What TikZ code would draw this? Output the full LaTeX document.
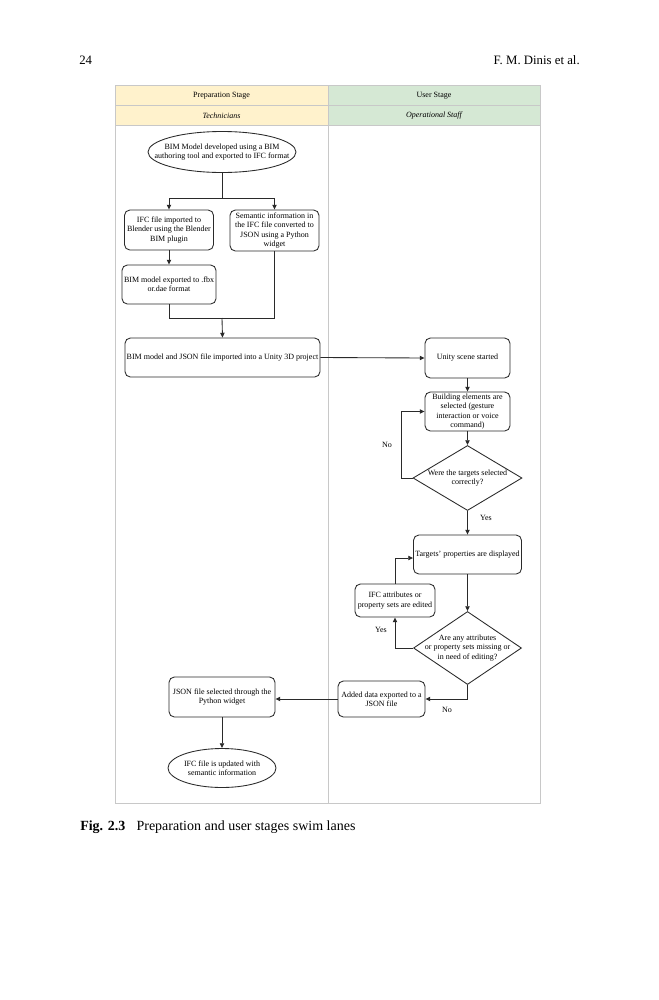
\documentclass[tikz,border=0pt]{standalone}
\usepackage{fontspec}
\setmainfont{Liberation Serif}
\usetikzlibrary{shapes.geometric,arrows.meta,calc}
\definecolor{laneyellow}{HTML}{FFF2CC}
\definecolor{lanegreen}{HTML}{D5E8D4}
\definecolor{laneborder}{HTML}{C8C8C8}
\definecolor{lineclr}{HTML}{2A2A2A}
\newcommand\dfont{\fontsize{6}{6.9}\selectfont}
\newcommand\pfont{\fontsize{9.6}{11}\selectfont}
\newcommand\cfont{\fontsize{10.5}{12}\selectfont}
\begin{document}
\begin{tikzpicture}[x=0.75pt,y=-0.75pt,
  sz/.style 2 args={minimum width=#1*0.75pt, minimum height=#2*0.75pt},
  stepbox/.style={draw=lineclr, line width=0.65pt, rounded corners=4pt, fill=white, align=center, font=\dfont, inner sep=1pt},
  oval/.style={draw=lineclr, line width=0.65pt, ellipse, fill=white, inner sep=0pt},
  decision/.style={draw=lineclr, line width=0.65pt, diamond, fill=white, inner sep=0pt},
  dtext/.style={align=center, font=\dfont, inner sep=0pt},
  lanehead/.style={draw=laneborder, line width=0.5pt},
  lanelabel/.style={font=\dfont, inner sep=0pt},
  conn/.style={draw=lineclr, line width=0.65pt},
  arr/.style={conn, -{Triangle[length=3.6pt,width=3.2pt]}},
  lbl/.style={font=\dfont, inner sep=0pt}]
\useasboundingbox (0,0) rectangle (659,1000);
\fill[white] (0,0) rectangle (659,1000);

% page running head
\node[font=\pfont, anchor=west, inner sep=0pt] (pagenum) at (79,60) {24};
\node[font=\pfont, anchor=east, inner sep=0pt] (authors) at (580,60) {F. M. Dinis et al.};

% swim lanes
\draw[lanehead, fill=laneyellow] (115,85) rectangle (328,105);
\draw[lanehead, fill=laneyellow] (115,105) rectangle (328,125);
\draw[lanehead, fill=lanegreen] (328,85) rectangle (540,105);
\draw[lanehead, fill=lanegreen] (328,105) rectangle (540,125);
\draw[lanehead, fill=white] (115,125) rectangle (328,803);
\draw[lanehead, fill=white] (328,125) rectangle (540,803);
\node[lanelabel] (h1) at (221.5,95.5) {Preparation Stage};
\node[lanelabel] (h2) at (221.5,115.5) {\itshape Technicians};
\node[lanelabel] (h3) at (434,95.5) {User Stage};
\node[lanelabel] (h4) at (434,115.5) {\itshape Operational Staff};

% preparation lane
\node[oval, sz={148}{41}] (e1) at (222,152) {};
\node[dtext] at (e1) {BIM Model developed using a BIM\\authoring tool and exported to IFC format};
\node[stepbox, sz={89}{40}] (b2) at (169,230) {IFC file imported to\\Blender using the Blender\\BIM plugin};
\node[stepbox, sz={89}{41}] (b3) at (274.5,230.5) {Semantic information in\\the IFC file converted to\\JSON using a Python\\widget};
\node[stepbox, sz={94}{39}] (b4) at (169,284.5) {BIM model exported to .fbx\\or.dae format};
\node[stepbox, sz={195}{39}] (b5) at (222.5,357.5) {BIM model and JSON file imported into a Unity 3D project};
\node[stepbox, sz={106}{40}] (b11) at (222,697) {JSON file selected through the\\Python widget};
\node[oval, sz={108}{39}] (e2) at (222,768) {};
\node[dtext] at (e2) {IFC file is updated with\\semantic information};

% user lane
\node[stepbox, sz={85}{40}] (b6) at (467.5,358) {Unity scene started};
\node[stepbox, sz={85}{39}] (b7) at (467.5,411.5) {Building elements are\\selected (gesture\\interaction or voice\\command)};
\node[decision, sz={109}{65}] (d1) at (467.5,478) {};
\node[dtext] at (d1) {Were the targets selected\\correctly?};
\node[stepbox, sz={108}{39}] (b8) at (467.5,554.5) {Targets' properties are displayed};
\node[stepbox, sz={80}{33}] (b9) at (395,600.5) {IFC attributes or\\property sets are edited};
\node[decision, sz={108}{73}] (d2) at (467.5,648) {};
\node[dtext] at (d2) {Are any attributes\\or property sets missing or\\in need of editing?};
\node[stepbox, sz={87}{36}] (b10) at (381.5,699) {Added data exported to a\\JSON file};

% connectors
\coordinate (j1) at (222,198);
\coordinate (j2) at (222,318);
\coordinate (k1) at (401,478);
\draw[conn] (e1.south) -- (j1);
\draw[arr] (j1) -| (b2.north);
\draw[arr] (j1) -| (b3.north);
\draw[arr] (b2.south) -- (b4.north);
\draw[conn] (b4.south) |- (j2);
\draw[conn] (b3.south) |- (j2);
\draw[arr] (j2) -- (b5.north);
\draw[arr] (b5.east) -- (b6.west);
\draw[arr] (b6.south) -- (b7.north);
\draw[arr] (b7.south) -- (d1.north);
\draw[arr] (d1.west) -- (k1) |- (b7.west);
\node[lbl] (no1) at (387,445) {No};
\draw[arr] (d1.south) -- (b8.north);
\node[lbl] (yes1) at (486,518) {Yes};
\draw[arr] (b8.south) -- (d2.north);
\draw[arr] (d2.west) -| (b9.south);
\node[lbl] (yes2) at (381,630) {Yes};
\draw[arr] (b9.north) |- ($(b8.west)+(0,3.5)$);
\draw[arr] (d2.south) |- (b10.east);
\node[lbl] (no2) at (447,710) {No};
\draw[arr] (b10.west) -- (b10.west -| b11.east);
\draw[arr] (b11.south) -- (e2.north);

% caption
\node[font=\cfont, anchor=west, inner sep=0pt] (caption) at (80,827) {\textbf{Fig. 2.3}\hspace{0.8em}Preparation and user stages swim lanes};
\end{tikzpicture}
\end{document}
